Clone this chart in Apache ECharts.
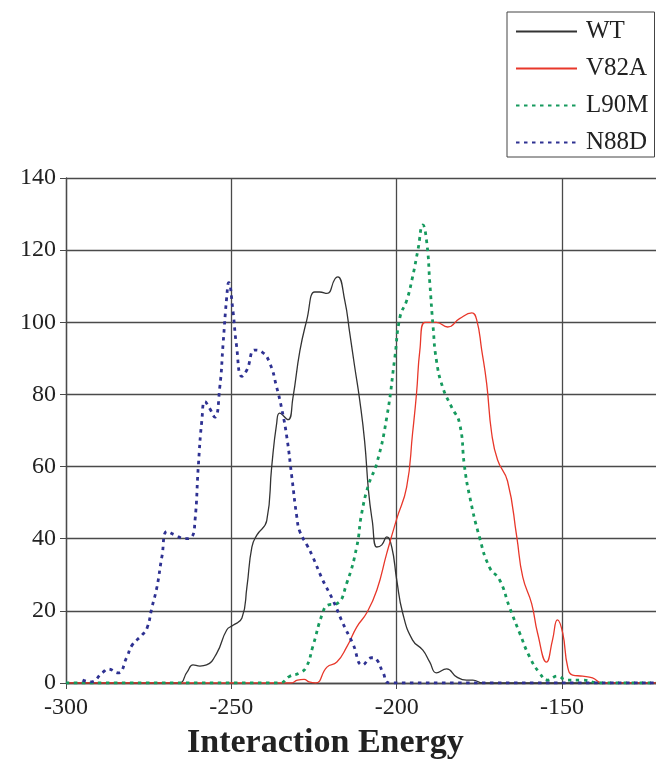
<!DOCTYPE html>
<html>
<head>
<meta charset="utf-8">
<script src="https://cdn.jsdelivr.net/npm/echarts@6/dist/echarts.min.js"></script>
<style>html,body{margin:0;padding:0;background:#fff;}#c{width:656px;height:760px;}</style>
</head>
<body>
<div id="c"></div>
<script>
const seriesNames = ['WT', 'V82A', 'L90M', 'N88D'];
const xTicks = [-300, -250, -200, -150];
const yTicks = [0, 20, 40, 60, 80, 100, 120, 140];

const wt = [[-300,0],[-266,0],[-263.4,3],[-261.6,5],[-259.5,4.7],[-257.5,5],[-254.4,8.3],[-251.4,14.7],[-249.5,16],[-246.8,18],[-245.3,26.6],[-243.8,37.7],[-242.3,41],[-239.3,45],[-237.8,60],[-236.3,72],[-235.4,74.8],[-232.9,73],[-231.4,79],[-229.3,92],[-227.2,100.6],[-224.8,108.4],[-223.3,108.4],[-221.1,108],[-218.7,112],[-217.8,112.6],[-215.7,106],[-214.2,97],[-212.7,87.6],[-211.2,78.5],[-209.7,67],[-208.5,53],[-207.4,45],[-206,37.7],[-204.5,38.3],[-203,40.5],[-201.5,37.7],[-200,28.6],[-198.2,19.4],[-195.2,11.9],[-192.1,9.1],[-190,5.8],[-188,2.8],[-184.9,3.9],[-181.9,1.7],[-178.9,0.8],[-177,0.8],[-174,0],[-121.6,0]];

const v82a = [[-300,0],[-232,0],[-230,0.8],[-228,1],[-226.5,0.3],[-224.5,0],[-221.1,4.4],[-218.1,5.8],[-215.1,10],[-212.1,15.5],[-209.1,19.4],[-206,25.8],[-203,36],[-200,45.5],[-197,54.3],[-195.2,69.3],[-194,80.4],[-193,92.3],[-191.5,100],[-188,100],[-184.6,98.7],[-181,101],[-177.3,102.6],[-175.8,100.6],[-174.3,92.3],[-172.8,83],[-171.3,69.3],[-169.5,61.8],[-166.5,56],[-163.7,40.5],[-161.9,29.4],[-159.2,22],[-157.4,13.8],[-154.7,5.8],[-152.9,11.9],[-151.4,17.5],[-149.8,13.8],[-148.3,4.4],[-146.8,2.2],[-143.8,1.9],[-140.8,1.4],[-137.8,0],[-121.6,0]];

const l90m = [[-300,0],[-235.5,0],[-232.3,1.9],[-229.3,2.8],[-227.3,4.5],[-225.4,10],[-222.4,19.4],[-220.8,21.6],[-218.1,22],[-215.1,27.7],[-212.1,37.7],[-210.6,47],[-208.5,55],[-206,61],[-203,73.7],[-200.6,90],[-199,101.5],[-197,106],[-195.2,112.6],[-193.6,120],[-192.1,127],[-190.9,122],[-190,111],[-189,98.7],[-188,89.5],[-186.1,82],[-183.4,76.5],[-181,72],[-179.5,60],[-178,52],[-175,40.5],[-171.9,32],[-168.9,28.6],[-165.9,21],[-162.8,13.8],[-159.8,7.2],[-156.8,2.8],[-154.4,0.8],[-151.4,1.9],[-148.6,0.8],[-143.8,0.8],[-138.7,0],[-121.6,0]];

const n88d = [[-295,0.8],[-292.7,0.3],[-288.8,3],[-287.3,3.9],[-284.3,2.8],[-281.6,7.2],[-280,10.5],[-277,13.3],[-275.5,15.2],[-274,21],[-272.5,26.6],[-271,35],[-269.4,42],[-267,41],[-264,40],[-262,40.5],[-261,45],[-260,60],[-258.9,73],[-258,78],[-256.5,76],[-255,73.7],[-253.5,82],[-252.5,94],[-251.4,107],[-250.8,111],[-249.5,103],[-248.5,94],[-246.8,85],[-245.3,86.8],[-242.9,92.3],[-240.8,91.8],[-238.4,88.7],[-236.3,82],[-234.7,75.7],[-233.2,68],[-231.7,57],[-230.2,46],[-229.3,42],[-227,38],[-225.4,35],[-222.4,28.6],[-219.3,23],[-216.3,16.6],[-213.3,11],[-210.3,5],[-207.6,7],[-206,6.4],[-204.2,3],[-202,0],[-121.6,0]];

const serif = "'Liberation Serif', 'DejaVu Serif', serif";
const gridColor = '#4a4a4a';
const smoothness = 0.5;

const chart = echarts.init(document.getElementById('c'));
chart.setOption({
  animation: false,
  backgroundColor: '#fff',
  grid: { left: 66, right: 0, top: 178, bottom: 77, containLabel: false },
  legend: {
    data: seriesNames,
    orient: 'vertical',
    left: 507, top: 12,
    padding: [7, 6, 2, 8],
    itemGap: 12,
    itemWidth: 61,
    itemHeight: 14,
    borderColor: '#444',
    borderWidth: 1,
    backgroundColor: '#fff',
    itemStyle: { opacity: 0 },
    textStyle: { fontFamily: serif, fontSize: 25, color: '#222', padding: [0, 0, 0, 4] }
  },
  xAxis: {
    type: 'value', min: -300, max: -121.6, interval: 50,
    axisLine: { show: true, onZero: false, lineStyle: { color: gridColor, width: 1.3 } },
    axisTick: { show: true, length: 6, lineStyle: { color: gridColor } },
    axisLabel: {
      fontFamily: serif, fontSize: 24, color: '#222', margin: 13,
      showMaxLabel: false,
      formatter: v => xTicks.indexOf(v) >= 0 ? String(v) : ''
    },
    splitLine: { show: true, showMaxLine: false, lineStyle: { color: gridColor, width: 1.3 } }
  },
  yAxis: {
    type: 'value', min: 0, max: 140, interval: 20,
    axisLine: { show: true, lineStyle: { color: gridColor, width: 1.3 } },
    axisTick: { show: true, length: 6, lineStyle: { color: gridColor } },
    axisLabel: {
      fontFamily: serif, fontSize: 24, color: '#222', margin: 10,
      formatter: v => yTicks.indexOf(v) >= 0 ? String(v) : ''
    },
    splitLine: { show: true, lineStyle: { color: gridColor, width: 1.3 } }
  },
  graphic: [{
    type: 'text', left: 187, top: 726,
    style: { text: 'Interaction Energy', font: "bold 34px 'Liberation Serif', serif", fill: '#222' }
  }],
  series: [
    { name: 'WT', type: 'line', data: wt, smooth: smoothness, symbol: 'none', color: '#333',
      lineStyle: { color: '#333', width: 1.3 } },
    { name: 'V82A', type: 'line', data: v82a, smooth: smoothness, symbol: 'none', color: '#e8372a',
      lineStyle: { color: '#e8372a', width: 1.3 } },
    { name: 'L90M', type: 'line', data: l90m, smooth: smoothness, symbol: 'none', color: '#169a5e',
      lineStyle: { color: '#169a5e', width: 2.8, type: [3.5, 4.5] } },
    { name: 'N88D', type: 'line', data: n88d, smooth: smoothness, symbol: 'none', color: '#2e3192',
      lineStyle: { color: '#2e3192', width: 2.8, type: [3.5, 4.5] } }
  ]
});
</script>
</body>
</html>
